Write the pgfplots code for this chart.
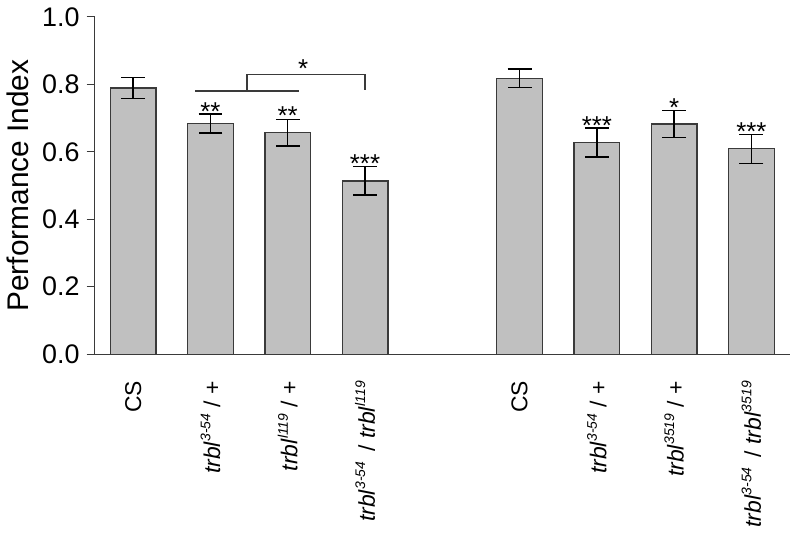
\documentclass[border=0pt]{standalone}
\usepackage{fontspec}
\setmainfont{Liberation Sans}
\usepackage{pgfplots}
\pgfplotsset{compat=1.18}
\definecolor{barfill}{HTML}{C0C0C0}
\definecolor{baredge}{HTML}{3A3A3A}
\newcommand{\trbl}[1]{\textit{trbl}\raisebox{0.42em}{\fontsize{7}{7}\selectfont\textit{#1}}}
\newcommand{\stars}[3]{\node[anchor=base,font=\fontsize{13}{13}\selectfont,inner sep=0pt] at (axis cs:#1,#2) {#3};}
\begin{document}
\begin{tikzpicture}
\begin{axis}[
  scale only axis,
  width=349.5pt, height=169.5pt,
  axis lines*=left,
  axis line style={draw=baredge, line width=0.6pt},
  xmin=0.5, xmax=9.5,
  ymin=0, ymax=1,
  ytick={0,0.2,0.4,0.6,0.8,1.0},
  yticklabel style={/pgf/number format/fixed, /pgf/number format/fixed zerofill, /pgf/number format/precision=1,
    font=\fontsize{13.5}{16}\selectfont},
  /pgf/number format/assume math mode=true,
  tick align=outside,
  major tick length=4pt,
  y tick style={draw=baredge, line width=0.6pt},
  xtick={1,2,3,4,6,7,8,9},
  x tick style={draw=none},
  xticklabels={CS, {\trbl{3-54} / +}, {\trbl{l119} / +}, {\trbl{3-54} \,/ \trbl{l119}},
               CS, {\trbl{3-54} / +}, {\trbl{3519} / +}, {\trbl{3-54} \,/ \trbl{3519}}},
  xticklabel style={rotate=90, anchor=east, font=\fontsize{11.5}{14}\selectfont, xshift=-6pt},
  ylabel={Performance Index},
  ylabel style={font=\fontsize{15}{18}\selectfont},
  clip=false,
]
\addplot[ybar, bar width=0.59, fill=barfill, draw=baredge, line width=0.7pt,
  error bars/.cd, y dir=both, y explicit,
  error bar style={black, line width=0.75pt},
  error mark options={rotate=90, mark size=6pt, black, line width=0.75pt}]
  coordinates {
  (1,0.789) +- (0,0.031)
  (2,0.684) +- (0,0.028)
  (3,0.657) +- (0,0.039)
  (4,0.514) +- (0,0.042)
  (6,0.818) +- (0,0.028)
  (7,0.627) +- (0,0.043)
  (8,0.683) +- (0,0.040)
  (9,0.609) +- (0,0.043)
};
% significance marks
\stars{2}{0.693}{**}
\stars{3}{0.681}{**}
\stars{4}{0.540}{***}
\stars{7}{0.650}{***}
\stars{8}{0.705}{*}
\stars{9}{0.633}{***}
\stars{3.2}{0.819}{*}
% bracket
\draw[baredge, line width=0.75pt] (axis cs:1.80,0.781) -- (axis cs:3.15,0.781);
\draw[baredge, line width=0.75pt] (axis cs:2.47,0.781) -- (axis cs:2.47,0.829) -- (axis cs:4,0.829) -- (axis cs:4,0.782);
% picture frame
\path (rel axis cs:-0.1302,-0.5546) rectangle (rel axis cs:1.0143,1.0501);
\end{axis}
\end{tikzpicture}
\end{document}
